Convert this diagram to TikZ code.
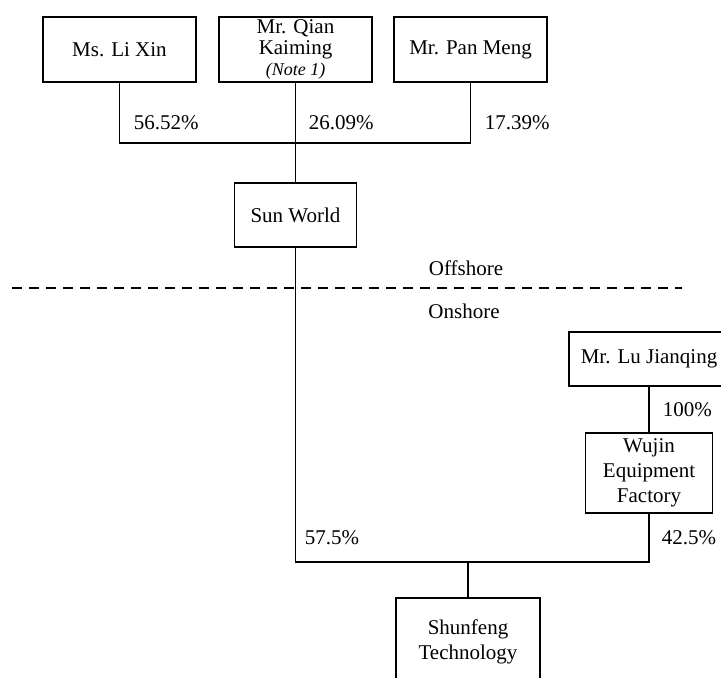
\documentclass[tikz,border=0pt]{standalone}
\usepackage{fontspec}
\setmainfont{Liberation Serif}
\usepackage{tikz}
\usetikzlibrary{positioning}
\tikzset{firm/.style={draw,line width=0.9pt,align=center,inner sep=1pt}}
\tikzstyle{pct}=[anchor=west,inner sep=0pt]
\newcommand{\notefont}{\fontsize{9}{10}\selectfont\itshape}

\begin{document}
\begin{tikzpicture}[x=0.5pt,y=-0.5pt,node distance=88pt,line width=0.9pt,
    font=\fontsize{10.5}{12.5}\selectfont]
    \useasboundingbox (0,0) rectangle (721,677);
    \node [firm,minimum width=76.5pt,minimum height=32.5pt] (lixin) at (119.5,49.5) {Ms. Li Xin};
    \node [firm,minimum width=76.5pt,minimum height=32.5pt,font=\fontsize{10.5}{10.5}\selectfont] (qian) [right of=lixin] {Mr. Qian\\Kaiming\\{\notefont (Note 1)}};
    \node [firm,minimum width=76.5pt,minimum height=32.5pt] (pan) [right of=qian,node distance=87.5pt] {Mr. Pan Meng};
    \node [firm,minimum width=61pt,minimum height=32pt] (sun) [below of=qian,node distance=82.75pt] {Sun World};
    \node [firm,minimum width=80pt,minimum height=27pt] (lu) at (649,359) {Mr. Lu Jianqing};
    \node [firm,minimum width=63.5pt,minimum height=40pt] (wujin) [below of=lu,node distance=57pt] {Wujin\\Equipment\\Factory};
    \node [firm,minimum width=72pt,minimum height=43.5pt] (shunfeng) at (468,641.5) {Shunfeng\\Technology};
    % joints of the connectors
    \coordinate (tbar) at (296,143);
    \coordinate (bbar) at (468,562);
    \coordinate (dl) at (12,288);
    \coordinate (dr) at (682,288);
    \draw (lixin.south) |- (tbar) -| (pan.south);
    \draw (qian) -- (sun);
    \draw (sun.south) |- (bbar) -| (wujin.south);
    \draw (bbar) -- (shunfeng);
    \draw (lu) -- (wujin);
    \draw [dash pattern=on 5pt off 3.5pt] (dl) -- (dr);
    % shares
    \node [pct] (p1) at (133,123) {56.52\%};
    \node [pct] (p2) at (308,123) {26.09\%};
    \node [pct] (p3) at (484,123) {17.39\%};
    \node [pct] (p4) at (662,410) {100\%};
    \node [pct] (p5) at (304,538) {57.5\%};
    \node [pct] (p6) at (661,538) {42.5\%};
    \node (off) at (466,268) {Offshore};
    \node (on) at (464,311) {Onshore};
\end{tikzpicture}
\end{document}
